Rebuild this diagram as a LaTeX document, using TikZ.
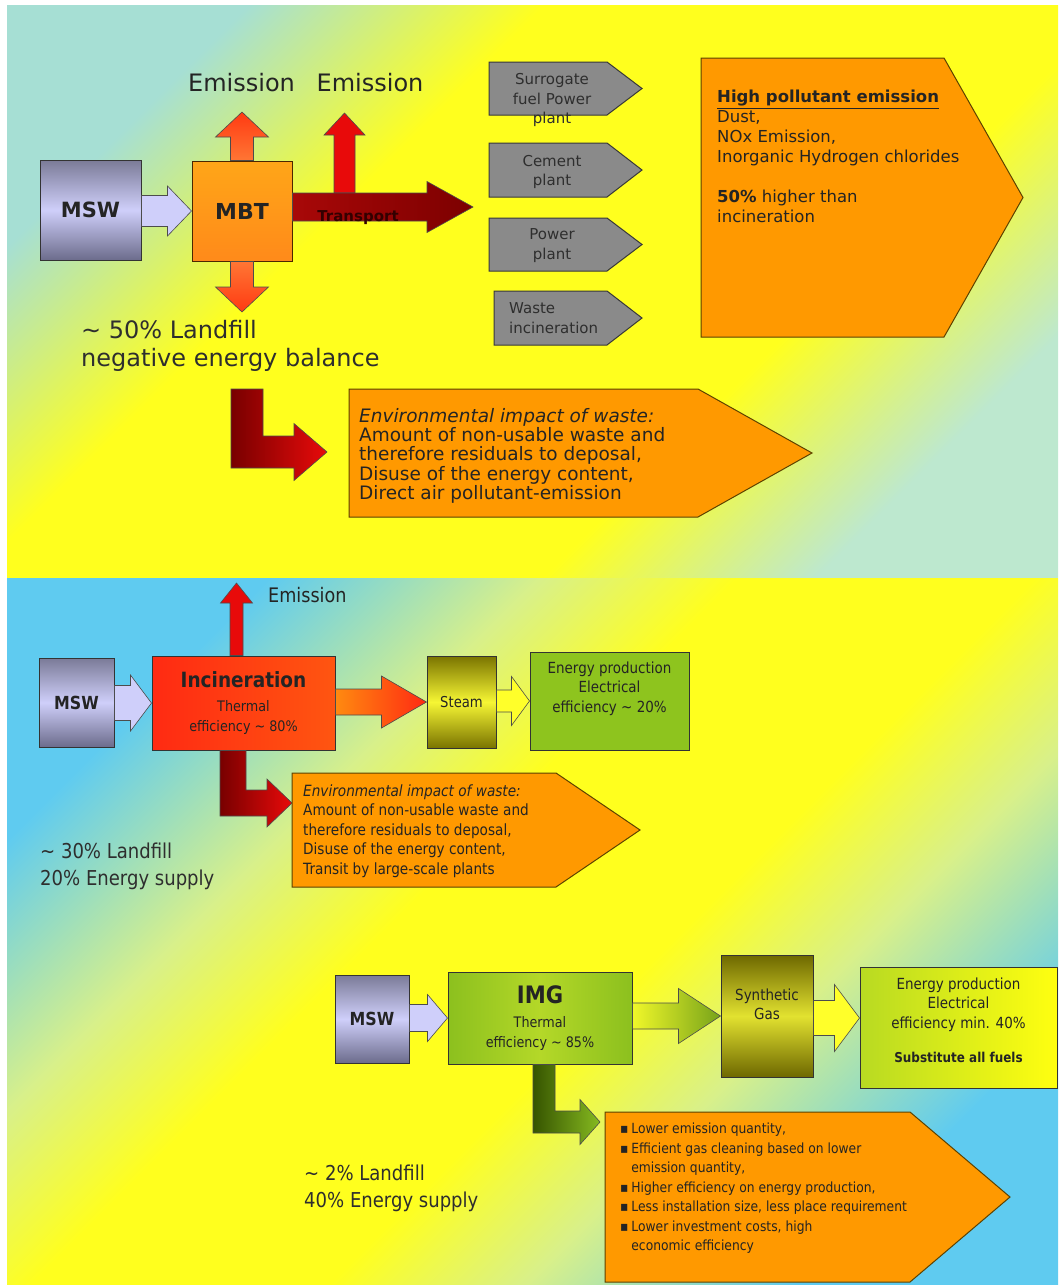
\documentclass[tikz,border=0pt]{standalone}
\usepackage{fontspec}
\setmainfont{DejaVu Sans}
\newfontfamily\condfont[FakeStretch=0.88]{DejaVu Sans}
\usetikzlibrary{calc}

\definecolor{bgteal}{HTML}{A6DFD4}
\definecolor{bgmint}{HTML}{BDE8CF}
\definecolor{bgyellow}{HTML}{FFFF1E}
\definecolor{bgcyan}{HTML}{5FCBF0}
\definecolor{bgpale}{HTML}{D8F08A}
\definecolor{ink}{HTML}{242424}
\definecolor{mswlight}{HTML}{CFCFFA}
\definecolor{mswdark}{HTML}{6C6C8C}
\definecolor{mbtorange}{HTML}{FF961C}
\definecolor{emired}{HTML}{FF3A12}
\definecolor{emiorange}{HTML}{FF7634}
\definecolor{transred}{HTML}{A80808}
\definecolor{transdark}{HTML}{7C0000}
\definecolor{lred}{HTML}{E80A0A}
\definecolor{ldark}{HTML}{780000}
\definecolor{plantgray}{HTML}{8A8A8A}
\definecolor{pentorange}{HTML}{FF9900}
\definecolor{pentedge}{HTML}{5C4200}
\definecolor{incinred}{HTML}{FF2A12}
\definecolor{incinorange}{HTML}{FF8A10}
\definecolor{steamdark}{HTML}{7A7400}
\definecolor{steamlight}{HTML}{F6F634}
\definecolor{energygreen}{HTML}{8EC41E}
\definecolor{imggreen}{HTML}{8CC01E}
\definecolor{imglight}{HTML}{B4D828}
\definecolor{arrowyellow}{HTML}{FFFF2A}
\definecolor{greendark}{HTML}{365400}
\definecolor{greenlight}{HTML}{86BA20}
\definecolor{enyellow}{HTML}{FFFF10}
\definecolor{engreen}{HTML}{B8DA22}

\pgfdeclareverticalshading{toppanel}{100bp}{color(0bp)=(bgmint); color(25bp)=(bgmint); color(37bp)=(bgyellow);
  color(62bp)=(bgyellow); color(75bp)=(bgteal); color(100bp)=(bgteal)}
\pgfdeclareverticalshading{lowpanel}{100bp}{color(0bp)=(bgcyan); color(25bp)=(bgcyan); color(36bp)=(bgpale);
  color(44bp)=(bgyellow); color(56bp)=(bgyellow); color(64bp)=(bgpale); color(75bp)=(bgcyan); color(100bp)=(bgcyan)}

\newcommand\fsz[2]{\fontsize{#1}{#2}\selectfont}
\newcommand\bul{\makebox[0.8em][l]{▪}}

\newcommand\hfat[6][]{%
  \path[fat,#1] ($(#2 |- #3)+(0,-#4)$) -- ($(#3)+(-#6,-#4)$) -- ($(#3)+(-#6,-#5)$) -- (#3)
    -- ($(#3)+(-#6,#5)$) -- ($(#3)+(-#6,#4)$) -- ($(#2 |- #3)+(0,#4)$) -- cycle;}
\newcommand\vfat[6][]{%
  \path[fat,#1] ($(#2 -| #3)+(-#4,0)$) -- ($(#3)+(-#4,#6)$) -- ($(#3)+(-#5,#6)$) -- (#3)
    -- ($(#3)+(#5,#6)$) -- ($(#3)+(#4,#6)$) -- ($(#2 -| #3)+(#4,0)$) -- cycle;}
\newcommand\lfat[6][]{%
  \path[fat,#1] ($(#2)+(-#4,0)$) -- ($(#2 |- #3)+(-#4,#4)$) -- ($(#3)+(-#6,#4)$) -- ($(#3)+(-#6,#5)$) -- (#3)
    -- ($(#3)+(-#6,-#5)$) -- ($(#3)+(-#6,-#4)$) -- ($(#2 |- #3)+(#4,-#4)$) -- ($(#2)+(#4,0)$) -- cycle;}
\newcommand\pentpath[6][]{\path[#1] (#2,#3) -- (#4,#3) -- (#6,{(#3+#5)/2}) -- (#4,#5) -- (#2,#5) -- cycle;}

\tikzset{
  box/.style={draw=black!80, line width=1pt, inner sep=0pt, align=center, text=ink},
  mswbox/.style={box, top color=mswdark!90, bottom color=mswdark, middle color=mswlight, font=\bfseries\fsz{21}{24}},
  fat/.style={draw=black!70, line width=0.6pt},
  pent/.style={draw=pentedge, line width=1pt, fill=pentorange},
  plantpent/.style={draw=black!78, line width=1pt, fill=plantgray},
  txt/.style={text=ink, inner sep=0pt},
  planttext/.style={txt, text=black!82, align=center, font=\fsz{15}{19.5}},
  condtxt/.style={txt, align=center, font=\condfont\fsz{15.3}{19.5}}
}

\begin{document}
\begin{tikzpicture}[x=1pt, y=-1pt]
  \fill[white] (0,0) rectangle (1058,1285);
  \shade[shading=toppanel, shading angle=45] (7,5) rectangle (1058,577);
  \shade[shading=lowpanel, shading angle=45] (7,578) rectangle (1058,1285);

  \node[txt, font=\fsz{24}{28}] (emis1) at (241.5,83) {Emission};
  \node[txt, font=\fsz{24}{28}] (emis2) at (370,83) {Emission};

  \node[mswbox, minimum width=101, minimum height=100] (msw) at (90.5,210) {MSW};
  \node[box, draw=black!70!orange, top color=mbtorange!85!yellow, bottom color=mbtorange!92!red,
        minimum width=100, minimum height=100, font=\bfseries\fsz{22}{24}] (mbt) at (242,211) {MBT};

  \coordinate (mbtup)   at (242,112);
  \coordinate (mbtdown) at (242,312);
  \coordinate (trbase)  at (344.5,193);
  \coordinate (emitip)  at (344.5,113);
  \coordinate (trtip)   at (473,207);

  \hfat[fill=mswlight]{msw.east}{mbt.west}{15.5}{25}{24}
  \vfat[top color=emired, bottom color=emiorange]{mbt.north}{mbtup}{11.5}{26.5}{25}
  \vfat[top color=emiorange, bottom color=emired]{mbt.south}{mbtdown}{11.5}{26.5}{-25}
  \vfat[fill=lred]{trbase}{emitip}{10.5}{20.5}{22}
  \hfat[left color=transred, right color=transdark]{mbt.east}{trtip}{14}{25.5}{46}
  \node[font=\bfseries\fsz{15}{18}, text=black!80!red, inner sep=0pt] (trans) at (358,218) {Transport};

  \foreach \ya/\yb/\xa in {62/115/489,143/197/489,218/271/489,291/345/494}
    {\pentpath[plantpent]{\xa}{\ya}{607}{\yb}{642}}
  \node[planttext] (surr) at (552,100) {Surrogate\\fuel Power\\plant};
  \node[planttext] (cem)  at (552,172) {Cement\\plant};
  \node[planttext] (pow)  at (552,245.5) {Power\\plant};
  \node[planttext, align=left, anchor=west] (wst) at (509,318) {Waste\\incineration};

  \pentpath[pent]{701}{58}{944}{337}{1023}
  \node[txt, anchor=north west, align=left, font=\fsz{16.5}{20}] (hpe) at (717,90)
    {\underline{\textbf{High pollutant emission}}\\Dust,\\NOx Emission,\\Inorganic Hydrogen chlorides\\[20pt]\textbf{50\%} higher than\\incineration};

  \node[txt, text=black!82, anchor=west, align=left, font=\fsz{24}{28}] (lf1) at (81,346)
    {\textasciitilde\ 50\% Landfill\\negative energy balance};

  \coordinate (ltop1) at (247,389);
  \coordinate (ltip1) at (327,452);
  \lfat[left color=ldark, right color=lred]{ltop1}{ltip1}{16}{28.5}{33}
  \pentpath[pent]{349}{389}{698}{517}{812}
  \node[txt, anchor=north west, align=left, font=\fsz{18.5}{19.3}] (env1) at (359,408)
    {\textit{Environmental impact of waste:}\\Amount of non-usable waste and\\therefore residuals to deposal,\\Disuse of the energy content,\\Direct air pollutant-emission};

  \node[txt, anchor=west, font=\condfont\fsz{20}{24}] (emis3) at (268,595) {Emission};
  \node[mswbox, minimum width=75, minimum height=89, font=\condfont\bfseries\fsz{18}{20}] (msw2) at (76.5,702.5) {MSW};
  \node[box, left color=incinred, right color=incinred!55!incinorange, minimum width=183, minimum height=94,
        font=\condfont\fsz{14.5}{20}] (incin) at (243.5,703)
    {{\bfseries\fsz{21}{24}Incineration}\\[4pt]Thermal\\efficiency \textasciitilde\ 80\%};
  \node[box, top color=steamdark, bottom color=steamdark, middle color=steamlight, minimum width=69, minimum height=92,
        font=\condfont\fsz{15}{18}] (steam) at (461.5,702) {Steam};
  \node[box, fill=energygreen, minimum width=159, minimum height=98] (energy2) at (609.5,701) {};
  \node[condtxt] (en2txt) at (609.5,688.5) {Energy production\\Electrical\\efficiency \textasciitilde\ 20\%};

  \coordinate (incup)  at (236.5,583);
  \coordinate (ltop2)  at ($(incin.south)+(-10.5,0)$);
  \coordinate (ltip2)  at (292,803);

  \hfat[fill=mswlight]{msw2.east}{incin.west}{17.5}{28}{21}
  \vfat[fill=lred]{incin.north}{incup}{6.5}{16}{20}
  \hfat[left color=incinorange, right color=incinred]{incin.east}{steam.west}{13}{26}{45}
  \hfat[fill=arrowyellow]{steam.east}{energy2.west}{11}{24.5}{18}
  \lfat[left color=ldark, right color=lred]{ltop2}{ltip2}{13}{24}{25}

  \pentpath[pent]{292}{773}{556}{887}{640}
  \node[txt, anchor=north west, align=left, font=\condfont\fsz{15.5}{19.5}] (env2) at (303,784.5)
    {\textit{Environmental impact of waste:}\\Amount of non-usable waste and\\therefore residuals to deposal,\\Disuse of the energy content,\\Transit by large-scale plants};
  \node[txt, text=black!82, anchor=west, align=left, font=\condfont\fsz{20.5}{27}] (lf2) at (40,866.5)
    {\textasciitilde\ 30\% Landfill\\20\% Energy supply};

  \node[mswbox, minimum width=74, minimum height=88, font=\condfont\bfseries\fsz{18}{20}] (msw3) at (372,1019) {MSW};
  \node[box, left color=imggreen, right color=imggreen, middle color=imglight, minimum width=184, minimum height=92,
        font=\condfont\fsz{14.5}{20}] (img) at (540,1018)
    {{\bfseries\fsz{24}{26}IMG}\\[4pt]Thermal\\efficiency \textasciitilde\ 85\%};
  \node[box, top color=steamdark!90!black, bottom color=steamdark!90!black, middle color=steamlight!92!black,
        minimum width=92, minimum height=122] (syngas) at (767,1016) {};
  \node[condtxt] (syntxt) at (767,1004.5) {Synthetic\\Gas};
  \node[box, left color=engreen, right color=enyellow, minimum width=197, minimum height=121] (energy3) at (958.5,1027.5) {};
  \node[condtxt] (en3txt) at (958.5,1020.5)
    {Energy production\\Electrical\\efficiency min. 40\%\\[15pt]{\bfseries\fsz{13.6}{16}Substitute all fuels}};

  \coordinate (en3in)  at ($(energy3.west)+(0,-9.5)$);
  \coordinate (ltop3)  at ($(img.south)+(4,0)$);
  \coordinate (ltip3)  at (600,1122);

  \hfat[fill=mswlight]{msw3.east}{img.west}{13.5}{23.5}{20}
  \hfat[left color=arrowyellow!80!imglight, right color=imggreen!85!black]{img.east}{syngas.west}{13}{27.5}{42}
  \hfat[fill=arrowyellow]{syngas.east}{en3in}{17.5}{33.5}{25}
  \lfat[left color=greendark, right color=greenlight]{ltop3}{ltip3}{11}{22.5}{20}

  \pentpath[pent]{605}{1112}{910}{1282}{1010}
  \node[txt, anchor=north west, align=left, font=\condfont\fsz{14}{19.5}] (imgpro) at (620,1123)
    {\bul Lower emission quantity,\\\bul Efficient gas cleaning based on lower\\\hspace*{0.8em}emission quantity,\\\bul Higher efficiency on energy production,\\\bul Less installation size, less place requirement\\\bul Lower investment costs, high\\\hspace*{0.8em}economic efficiency};
  \node[txt, text=black!82, anchor=west, align=left, font=\condfont\fsz{20.5}{27}] (lf3) at (304,1188.5)
    {\textasciitilde\ 2\% Landfill\\40\% Energy supply};
\end{tikzpicture}
\end{document}
